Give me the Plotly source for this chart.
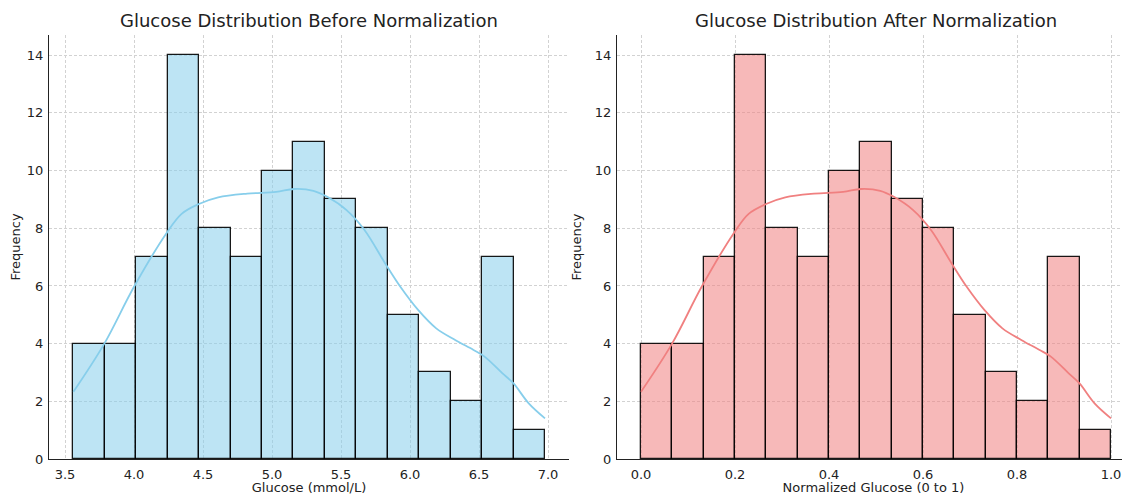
import plotly.graph_objects as go

# ---- data ----
counts = [4, 4, 7, 14, 8, 7, 10, 11, 9, 8, 5, 3, 2, 7, 1]
gluc_bin_start = 3.561
gluc_bin_width = 0.2278
norm_bin_start = 0.0
norm_bin_width = 1.0 / 15

kde_gluc_x = [3.561, 3.785, 4.0, 4.234, 4.345, 4.47, 4.61, 4.82, 5.03, 5.16, 5.30, 5.40,
              5.54, 5.67, 5.82, 5.93, 6.06, 6.19, 6.33, 6.46, 6.54, 6.67, 6.75, 6.86, 6.978]
kde_norm_x = [0.0, 0.066, 0.129, 0.197, 0.229, 0.266, 0.307, 0.368, 0.430, 0.468, 0.509, 0.538,
              0.579, 0.617, 0.661, 0.693, 0.731, 0.769, 0.810, 0.848, 0.872, 0.910, 0.933, 0.965, 1.0]
kde_y = [2.33, 4.0, 5.97, 7.82, 8.5, 8.84, 9.07, 9.2, 9.26, 9.36, 9.3, 9.09,
         8.63, 7.94, 6.78, 5.97, 5.16, 4.53, 4.12, 3.78, 3.55, 2.97, 2.62, 1.93, 1.41]

x_ticks_left = [3.5, 4.0, 4.5, 5.0, 5.5, 6.0, 6.5, 7.0]
x_ticks_right = [0.0, 0.2, 0.4, 0.6, 0.8, 1.0]
y_ticks = [0, 2, 4, 6, 8, 10, 12, 14]

titles = ["Glucose Distribution Before Normalization", "Glucose Distribution After Normalization"]
x_labels = ["Glucose (mmol/L)", "Normalized Glucose (0 to 1)"]

# ---- figure ----
OFF = 8  # default page body margin
W, H = 1130 - OFF, 495 - OFF
FONT = "DejaVu Sans"


def px(x):
    return (x - OFF) / W


def py(y):
    return 1 - (y - OFF) / H


gl_centers = [gluc_bin_start + gluc_bin_width * (i + 0.5) for i in range(len(counts))]
nm_centers = [norm_bin_start + norm_bin_width * (i + 0.5) for i in range(len(counts))]

fig = go.Figure()
fig.add_trace(go.Bar(x=gl_centers, y=counts, width=gluc_bin_width,
                     marker=dict(color="rgba(135,206,235,0.55)", line=dict(color="rgba(0,0,0,0.9)", width=1.3)),
                     xaxis="x", yaxis="y", showlegend=False))
fig.add_trace(go.Scatter(x=kde_gluc_x, y=kde_y, mode="lines", line=dict(color="#87CEEB", width=1.8, shape="spline"),
                         xaxis="x", yaxis="y", showlegend=False))
fig.add_trace(go.Bar(x=nm_centers, y=counts, width=norm_bin_width,
                     marker=dict(color="rgba(240,128,128,0.55)", line=dict(color="rgba(0,0,0,0.9)", width=1.3)),
                     xaxis="x2", yaxis="y2", showlegend=False))
fig.add_trace(go.Scatter(x=kde_norm_x, y=kde_y, mode="lines", line=dict(color="#F08080", width=1.8, shape="spline"),
                         xaxis="x2", yaxis="y2", showlegend=False))

left_dom = [px(49), px(569)]
right_dom = [px(617), 1.0]
y_dom = [py(459), py(35)]

TF = 13
common = dict(showgrid=True, gridcolor="#d2d2d2", griddash="3px,2px", gridwidth=0.8,
              showline=True, linecolor="#222", linewidth=1.3, ticks="",
              zeroline=False, tickfont=dict(size=TF, color="#222"),
              title_font=dict(size=TF, color="#222"), automargin=False)
common_x = dict(common, title_standoff=6, ticklabelstandoff=3)
common_y = dict(common, range=[0, 14.7], tickvals=y_ticks, title_standoff=10, ticklabelstandoff=2)

fig.update_layout(
    width=W, height=H, margin=dict(l=0, r=0, t=0, b=0, autoexpand=False),
    paper_bgcolor="white", plot_bgcolor="white",
    font=dict(family=FONT, color="#222"),
    bargap=0,
    xaxis=dict(domain=left_dom, anchor="y", range=[3.384, 7.152], tickvals=x_ticks_left,
               ticktext=[f"{v:.1f}" for v in x_ticks_left], title_text=x_labels[0], **common_x),
    yaxis=dict(domain=y_dom, anchor="x", title_text="Frequency", **common_y),
    xaxis2=dict(domain=right_dom, anchor="y2", range=[-0.0511, 1.0404], tickvals=x_ticks_right,
                ticktext=[f"{v:.1f}" for v in x_ticks_right], title_text=x_labels[1], **common_x),
    yaxis2=dict(domain=y_dom, anchor="x2", title_text="Frequency", **common_y),
    annotations=[
        dict(text=titles[0], x=px(309), y=py(20), xref="paper", yref="paper",
             showarrow=False, font=dict(size=18, family=FONT, color="#222"), xanchor="center", yanchor="middle"),
        dict(text=titles[1], x=px(876), y=py(20), xref="paper", yref="paper",
             showarrow=False, font=dict(size=18, family=FONT, color="#222"), xanchor="center", yanchor="middle"),
    ],
)

fig.write_html("out.html")
